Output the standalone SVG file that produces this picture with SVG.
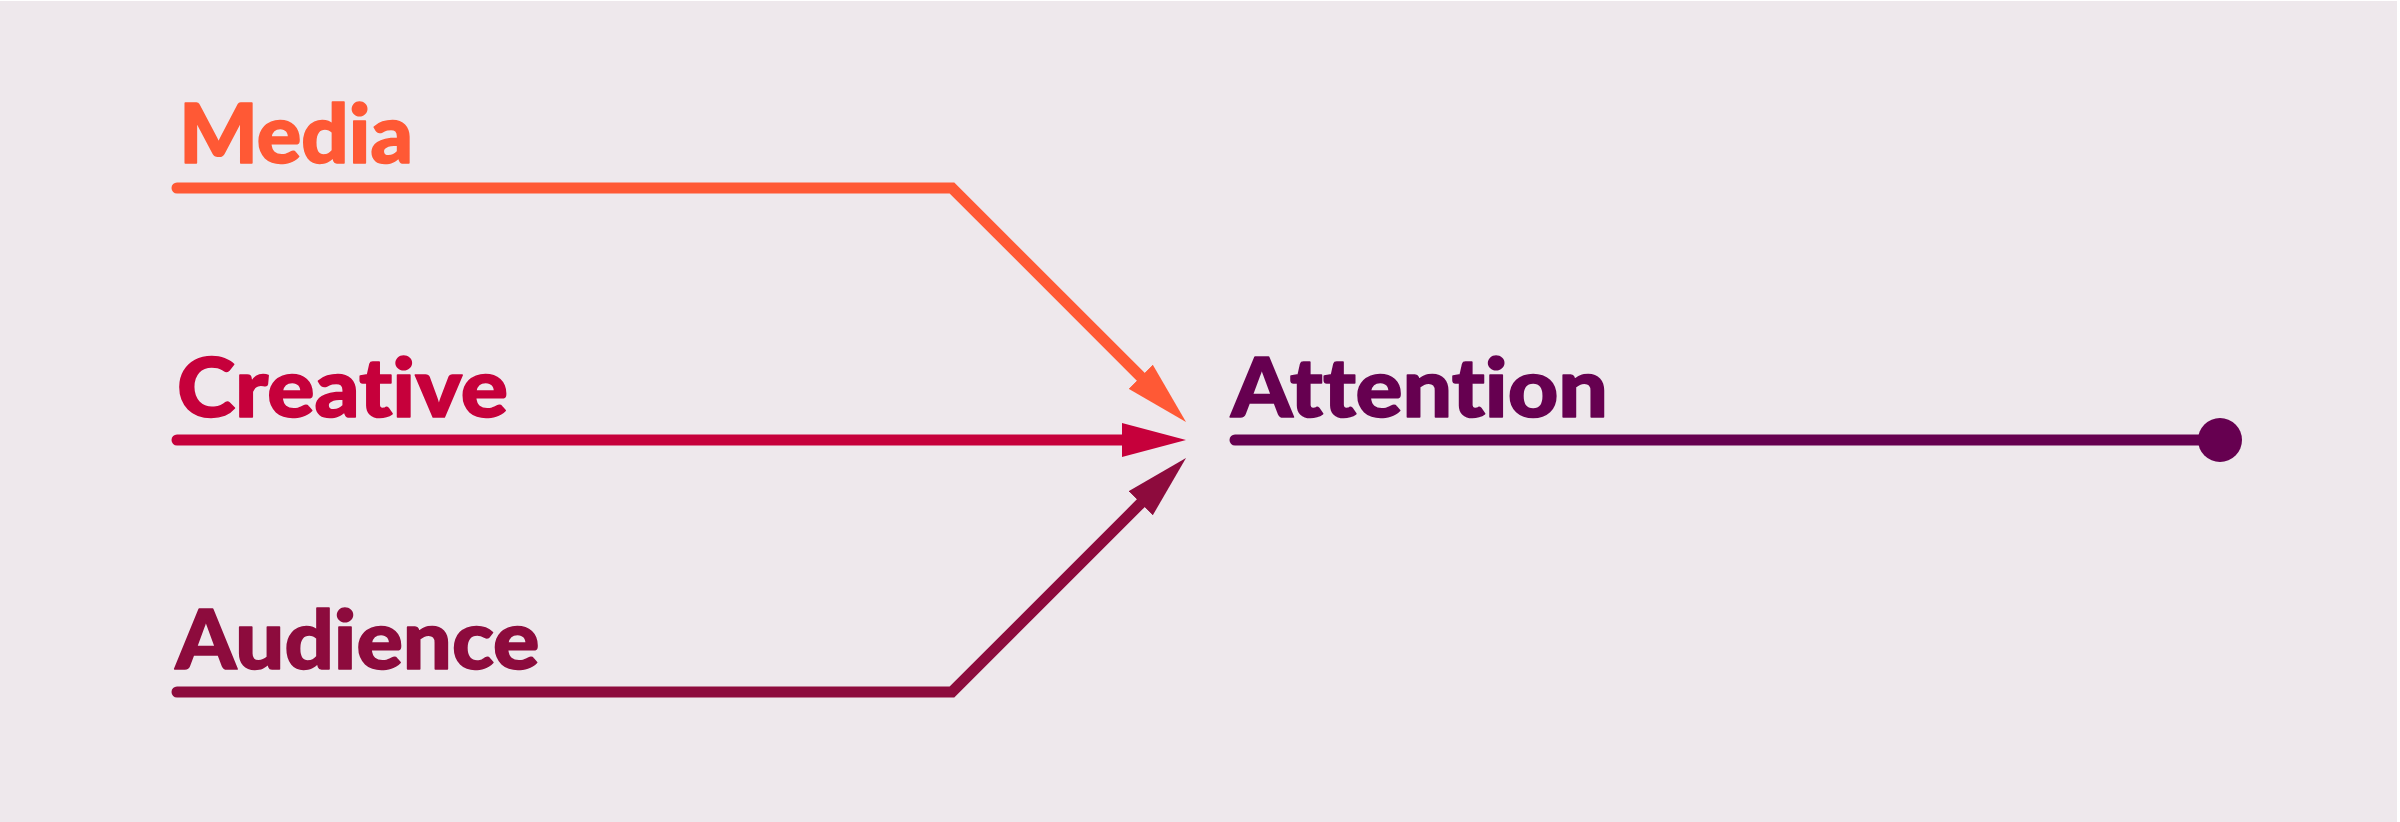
<svg xmlns="http://www.w3.org/2000/svg" width="2400" height="822" viewBox="0 0 2400 822">
  <style>
    .lbl { font-family: Lato, "Open Sans", "Liberation Sans", sans-serif; font-weight: 900; font-size: 81px; font-variant-ligatures: none; font-feature-settings: "liga" 0, "clig" 0; stroke-width: 1.6; stroke-linejoin: round; }
    .conn { fill: none; stroke-width: 11; stroke-linecap: round; stroke-linejoin: miter; }
  </style>
  <defs>
    <marker id="arMedia" markerUnits="userSpaceOnUse" markerWidth="64" markerHeight="34" refX="0" refY="17" orient="auto" viewBox="0 0 64 34">
      <path d="M0,0 L64,17 L0,34 Z" fill="#FF5935"/>
    </marker>
    <marker id="arCreative" markerUnits="userSpaceOnUse" markerWidth="64" markerHeight="34" refX="0" refY="17" orient="auto" viewBox="0 0 64 34">
      <path d="M0,0 L64,17 L0,34 Z" fill="#C6003B"/>
    </marker>
    <marker id="arAudience" markerUnits="userSpaceOnUse" markerWidth="64" markerHeight="34" refX="0" refY="17" orient="auto" viewBox="0 0 64 34">
      <path d="M0,0 L64,17 L0,34 Z" fill="#8D0B3D"/>
    </marker>
  </defs>
  <rect x="0" y="0" width="2400" height="822" fill="#FFFFFF"/>
  <rect x="0" y="1" width="2397" height="821" fill="#EEE8EC"/>

  <g id="connectors">
    <path class="conn" stroke="#FF5935" d="M177,188 H952 L1140.75,376.75" marker-end="url(#arMedia)"/>
    <path class="conn" stroke="#C6003B" d="M177,440 H1122" marker-end="url(#arCreative)"/>
    <path class="conn" stroke="#8D0B3D" d="M177,692 H952 L1140.75,503.25" marker-end="url(#arAudience)"/>
    <path class="conn" stroke="#660050" d="M1235,440 H2205"/>
    <circle cx="2220" cy="440" r="22" fill="#660050"/>
  </g>

  <g id="media">
    <text class="lbl" x="179" y="163" fill="#FF5935" stroke="#FF5935" textLength="234" lengthAdjust="spacingAndGlyphs">Media</text>
  </g>
  <g id="creative">
    <text class="lbl" x="177" y="417" fill="#C6003B" stroke="#C6003B" textLength="331" lengthAdjust="spacingAndGlyphs">Creative</text>
  </g>
  <g id="audience">
    <text class="lbl" x="175.5" y="669" fill="#8D0B3D" stroke="#8D0B3D" textLength="364" lengthAdjust="spacingAndGlyphs">Audience</text>
  </g>
  <g id="attention">
    <text class="lbl" x="1231" y="417" fill="#660050" stroke="#660050" textLength="377" lengthAdjust="spacingAndGlyphs">Attention</text>
  </g>
</svg>
